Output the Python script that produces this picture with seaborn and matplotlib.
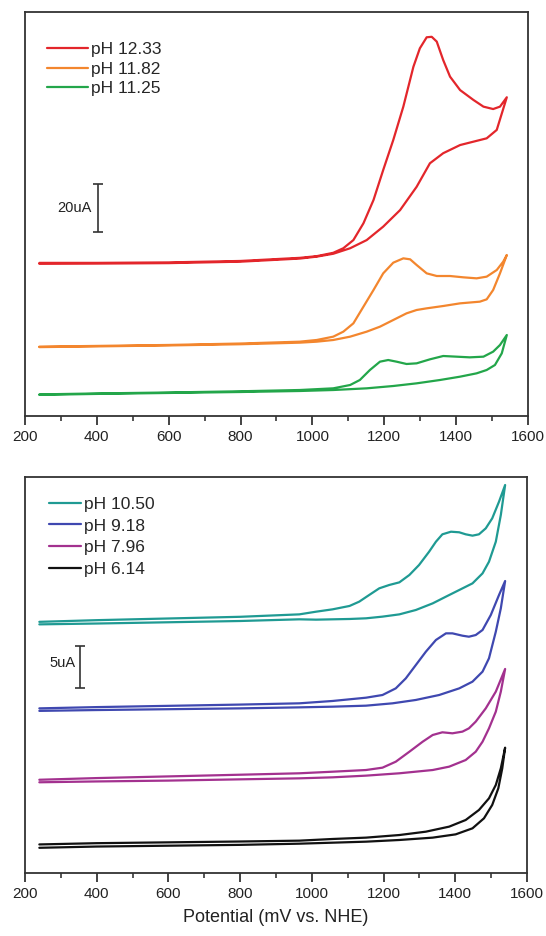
import numpy as np
import pandas as pd
import matplotlib
matplotlib.use("Agg")
import matplotlib.pyplot as plt
from matplotlib.ticker import MultipleLocator
import seaborn as sns

sns.set_style("ticks")
plt.rcParams['font.family'] = ['Liberation Sans', 'DejaVu Sans']

# ---------------- data (potential in mV vs NHE, current in uA incl. offset) -------------
# Top panel
red_E_fwd = [240, 400, 600, 800, 965, 1012, 1058, 1086, 1114, 1142, 1170, 1197, 1225, 1253,
             1281, 1299, 1318, 1332, 1346, 1364, 1383, 1411, 1448, 1476, 1503, 1522, 1541]
red_I_fwd = [63.8, 63.8, 64.0, 64.6, 65.9, 66.6, 68.0, 69.9, 73.3, 80.3, 90.0, 102.5, 115.0, 128.9,
             145.5, 153.2, 157.8, 158.0, 156.0, 148.3, 141.4, 135.8, 131.7, 128.9, 127.9, 128.9, 132.8]
red_E_rev = [1541, 1513, 1485, 1411, 1364, 1327, 1290, 1244, 1197, 1151, 1105, 1058, 1012, 965,
             800, 600, 400, 240]
red_I_rev = [132.8, 119.2, 115.7, 112.9, 109.5, 105.3, 95.5, 85.8, 78.9, 73.3, 69.9, 67.6, 66.4, 65.6,
             64.3, 63.7, 63.5, 63.4]

orange_E_fwd = [240, 400, 600, 800, 965, 1012, 1058, 1086, 1114, 1142, 1170, 1197, 1225, 1253, 1272,
                1290, 1318, 1346, 1383, 1420, 1457, 1485, 1513, 1531, 1541]
orange_I_fwd = [28.9, 29.2, 29.6, 30.2, 30.97, 31.67, 33.06, 35.14, 38.61, 45.56, 52.5, 59.44, 63.89,
                65.69, 65.28, 62.92, 59.44, 58.33, 58.33, 57.78, 57.36, 58.06, 60.83, 64.31, 67.08]
orange_E_rev = [1541, 1522, 1503, 1485, 1466, 1411, 1364, 1318, 1290, 1262, 1225, 1188, 1151, 1105,
                1058, 1012, 965, 800, 600, 400, 240]
orange_I_rev = [67.08, 59.44, 52.5, 48.61, 47.64, 46.94, 45.83, 44.86, 44.17, 42.78, 40.0, 37.22,
                35.14, 33.06, 31.67, 30.97, 30.56, 29.9, 29.4, 29.0, 28.7]

green_E_fwd = [240, 400, 600, 800, 965, 1058, 1105, 1132, 1160, 1188, 1211, 1234, 1262, 1290, 1327,
               1364, 1401, 1438, 1476, 1503, 1522, 1541]
green_I_fwd = [9.0, 9.4, 9.8, 10.3, 10.83, 11.53, 12.92, 15.0, 19.17, 22.64, 23.33, 22.64, 21.67,
               21.94, 23.61, 25.0, 24.72, 24.44, 24.72, 26.81, 29.58, 33.75]
green_E_rev = [1541, 1527, 1508, 1485, 1457, 1411, 1355, 1290, 1225, 1151, 1058, 965, 800, 600, 400, 240]
green_I_rev = [33.75, 26.11, 21.25, 19.17, 17.78, 16.39, 15.0, 13.61, 12.5, 11.53, 10.83, 10.42,
               10.0, 9.6, 9.2, 8.8]

# Bottom panel
teal_E_fwd = [240, 400, 600, 800, 965, 1012, 1058, 1105, 1132, 1160, 1188, 1216, 1244, 1272, 1299,
              1327, 1346, 1364, 1388, 1411, 1429, 1448, 1466, 1485, 1503, 1522, 1539]
teal_I_fwd = [29.9, 30.1, 30.3, 30.5, 30.79, 31.11, 31.39, 31.79, 32.30, 33.10, 33.89, 34.29, 34.60,
              35.48, 36.67, 38.25, 39.44, 40.32, 40.63, 40.56, 40.32, 40.16, 40.32, 41.03, 42.22,
              44.21, 46.19]
teal_E_rev = [1539, 1527, 1513, 1494, 1476, 1448, 1411, 1374, 1337, 1290, 1244, 1197, 1151, 1105,
              1058, 1012, 965, 800, 600, 400, 240]
teal_I_rev = [46.19, 42.62, 39.44, 37.06, 35.67, 34.48, 33.69, 32.90, 32.10, 31.31, 30.79, 30.52,
              30.32, 30.24, 30.20, 30.16, 30.20, 30.0, 29.85, 29.7, 29.6]

blue_E_fwd = [240, 400, 600, 800, 965, 1058, 1151, 1197, 1234, 1262, 1290, 1318, 1346, 1374, 1392,
              1420, 1438, 1457, 1476, 1499, 1522, 1539]
blue_I_fwd = [19.6, 19.75, 19.9, 20.05, 20.20, 20.48, 20.87, 21.19, 21.98, 23.17, 24.76, 26.35, 27.74,
              28.53, 28.53, 28.25, 28.13, 28.33, 28.93, 30.71, 33.10, 34.76]
blue_E_rev = [1539, 1527, 1513, 1494, 1476, 1448, 1411, 1355, 1290, 1225, 1151, 1058, 965, 800, 600,
              400, 240]
blue_I_rev = [34.76, 31.51, 28.73, 25.56, 23.97, 22.78, 21.98, 21.19, 20.60, 20.20, 19.92, 19.80,
              19.72, 19.6, 19.5, 19.4, 19.3]

magenta_E_fwd = [240, 400, 600, 800, 965, 1058, 1151, 1197, 1234, 1272, 1309, 1337, 1364, 1392, 1420,
                 1438, 1457, 1485, 1513, 1539]
magenta_I_fwd = [11.1, 11.3, 11.5, 11.7, 11.87, 12.06, 12.26, 12.54, 13.25, 14.44, 15.63, 16.43,
                 16.75, 16.63, 16.83, 17.22, 18.02, 19.60, 21.59, 24.29]
magenta_E_rev = [1539, 1527, 1513, 1494, 1476, 1457, 1429, 1383, 1337, 1244, 1151, 1058, 965, 800,
                 600, 400, 240]
magenta_I_rev = [24.29, 21.59, 19.21, 17.22, 15.63, 14.44, 13.45, 12.66, 12.26, 11.87, 11.59, 11.39,
                 11.27, 11.15, 11.0, 10.9, 10.8]

black_E_fwd = [240, 400, 600, 800, 965, 1058, 1151, 1244, 1318, 1383, 1429, 1466, 1494, 1513, 1527, 1539]
black_I_fwd = [3.4, 3.55, 3.65, 3.75, 3.85, 4.05, 4.21, 4.52, 4.92, 5.52, 6.31, 7.50, 8.89, 10.48,
               12.46, 14.92]
black_E_rev = [1539, 1531, 1520, 1503, 1480, 1448, 1401, 1337, 1244, 1151, 1058, 965, 800, 600, 400, 240]
black_I_rev = [14.92, 12.46, 10.08, 8.10, 6.51, 5.32, 4.60, 4.21, 3.93, 3.73, 3.61, 3.49, 3.35, 3.25,
               3.15, 3.0]

top_labels = ["pH 12.33", "pH 11.82", "pH 11.25"]
bottom_labels = ["pH 10.50", "pH 9.18", "pH 7.96", "pH 6.14"]
xticks = [200, 400, 600, 800, 1000, 1200, 1400, 1600]

top_series = [(red_E_fwd, red_I_fwd, red_E_rev, red_I_rev),
              (orange_E_fwd, orange_I_fwd, orange_E_rev, orange_I_rev),
              (green_E_fwd, green_I_fwd, green_E_rev, green_I_rev)]
bottom_series = [(teal_E_fwd, teal_I_fwd, teal_E_rev, teal_I_rev),
                 (blue_E_fwd, blue_I_fwd, blue_E_rev, blue_I_rev),
                 (magenta_E_fwd, magenta_I_fwd, magenta_E_rev, magenta_I_rev),
                 (black_E_fwd, black_I_fwd, black_E_rev, black_I_rev)]
top_colors = ["#e3262b", "#f3862e", "#23a64a"]
bottom_colors = ["#1f9a93", "#3f48b0", "#a3318f", "#111111"]

# ---------------- figure ----------------
fig = plt.figure(figsize=(5.46, 9.36), dpi=100)
fig.patch.set_facecolor("white")
ax1 = fig.add_axes([25 / 546, 1 - 416 / 936, 503 / 546, 404 / 936])
ax2 = fig.add_axes([25 / 546, 1 - 873 / 936, 502 / 546, 396 / 936])


def draw(ax, series, colors, labels):
    for (ef, i_f, er, i_r), c, lab in zip(series, colors, labels):
        df = pd.DataFrame({"E": list(ef) + list(er), "I": list(i_f) + list(i_r)})
        sns.lineplot(data=df, x="E", y="I", sort=False, estimator=None, color=c,
                     lw=1.6, label=lab, ax=ax)


draw(ax1, top_series, top_colors, top_labels)
draw(ax2, bottom_series, bottom_colors, bottom_labels)

ax1.set_ylim(0, 404 / 2.4)
ax2.set_ylim(0, 396 / 8.4)

for ax in (ax1, ax2):
    ax.set_xlim(200, 1600)
    ax.set_xticks(xticks)
    ax.xaxis.set_minor_locator(MultipleLocator(100))
    ax.set_yticks([])
    ax.set_ylabel("")
    ax.set_xlabel("")
    ax.tick_params(axis="x", which="major", direction="out", length=6.5, width=1.2,
                   labelsize=11, colors="#222222", top=False)
    ax.tick_params(axis="x", which="minor", direction="out", length=3.5, width=1.1, top=False)
    for s in ax.spines.values():
        s.set_visible(True)
        s.set_linewidth(1.3)
        s.set_color("#333333")
    ax.set_facecolor("white")

ax1.legend(loc="upper left", bbox_to_anchor=(0.043, 0.925), frameon=False, fontsize=12.5,
           handlelength=2.4, handletextpad=0.15, labelspacing=0.25, borderaxespad=0, borderpad=0)
ax2.legend(loc="upper left", bbox_to_anchor=(0.048, 0.95), frameon=False, fontsize=12.5,
           handlelength=1.85, handletextpad=0.15, labelspacing=0.37, borderaxespad=0, borderpad=0)

# scale bars
ax1.errorbar([403], [86.7], yerr=[10], color="#333333", lw=1.2, capsize=3.5, capthick=1.2)
ax1.text(386, 86.7, "20uA", ha="right", va="center", fontsize=10.5,
         family=["Liberation Sans Narrow", "Liberation Sans"], color="#222222")
ax2.errorbar([353], [24.5], yerr=[2.5], color="#333333", lw=1.2, capsize=3.5, capthick=1.2)
ax2.text(340, 25.0, "5uA", ha="right", va="center", fontsize=10.5,
         family=["Liberation Sans Narrow", "Liberation Sans"], color="#222222")

ax2.set_xlabel("Potential (mV vs. NHE)", fontsize=13, color="#222222", labelpad=6)

fig.savefig("out.png", dpi=100)
